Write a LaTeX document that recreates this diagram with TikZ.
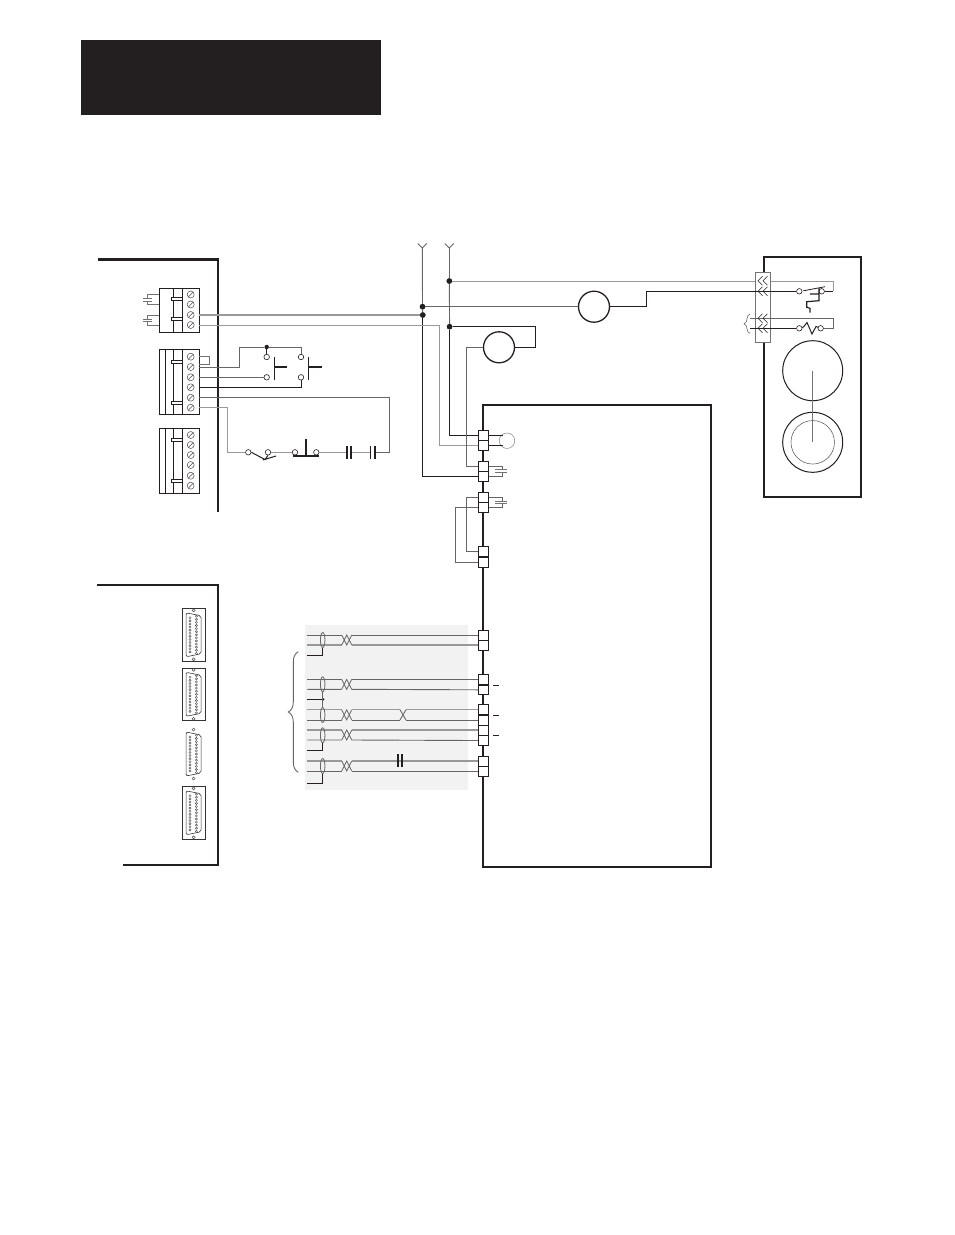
\documentclass[tikz,border=0pt]{standalone}
\usepackage{amsmath}
\usepackage{xcolor}
\usetikzlibrary{decorations.pathreplacing, positioning, shapes.geometric}
\definecolor{inkdark}{HTML}{231F20}
\tikzset{
  heavy/.style={line width=2.2pt,draw=inkdark},
  wire/.style={line width=.8pt,draw=inkdark},
  midwire/.style={line width=.9pt,draw=black!60},
  greywire/.style={line width=1.3pt,draw=black!40},
  hair/.style={line width=.5pt,draw=black!55},
  jdot/.style={circle,fill=inkdark,inner sep=0pt,minimum size=5.5pt},
  term/.style={circle,draw=inkdark,fill=white,line width=.6pt,inner sep=0pt,minimum size=5.5pt},
  motor/.style={circle,draw=inkdark,line width=1.3pt,inner sep=0pt,minimum size=31pt},
  screw/.style={circle,draw=black!70,line width=.5pt,inner sep=0pt,minimum size=7pt,
    path picture={\draw[black!70,line width=.5pt] (path picture bounding box.south west) -- (path picture bounding box.north east);}},
  pinbox/.style={rectangle,draw=inkdark,fill=white,line width=.8pt,inner sep=0pt,minimum width=10.4pt,minimum height=10pt},
  shield/.style={ellipse,draw=black!60,line width=.8pt,inner sep=0pt,minimum width=4.5pt,minimum height=15pt},
  chev/.pic={\draw[wire,line width=.6pt] (3.5,-4.5) -- (-1,0) -- (3.5,4.5) (8.5,-4.5) -- (4,0) -- (8.5,4.5);},
  twist/.pic={\draw[midwire,line width=.8pt] (0,0) -- (5,10) -- (10,0) (0,10) -- (5,0) -- (10,10);},
  platepair/.pic={\draw[hair] (-6,-1.2) -- (6,-1.2) (-6,1.2) -- (6,1.2);},
  dsub/.pic={
    \draw[line width=.6pt,draw=black!80,rounded corners=2pt] (-7.5,-22) -- (7.5,-19) -- (7.5,19) -- (-7.5,22) -- cycle;
    \foreach \k in {-6,...,6} \draw[black!65,line width=.45pt] (2.8,\k*3.1) circle (1.1pt);
    \foreach \k in {-5.5,-4.5,...,5.5} \draw[black!65,line width=.45pt] (-3.6,\k*3.1) circle (1.1pt);
    \draw[black!70,line width=.5pt] (0,-24.5) circle (1.5pt) (0,24.5) circle (1.5pt);
  }
}
\begin{document}
\begin{tikzpicture}[x=1pt,y=-1pt]
  \useasboundingbox (0,0) rectangle (954,1235);

  % header bar
  \fill[inkdark] (81,40) rectangle (381,115);

  % shaded cable area
  \fill[black!5] (305,624.7) rectangle (468.3,790);

  % left panels
  \draw[heavy] (98,259.5) -- (218.3,259.5) -- (218.3,512);
  \draw[heavy] (97,585) -- (218.3,585) -- (218.3,865) -- (123,865);

  % terminal blocks
  \draw[wire] (159,288) rectangle (199,332) (173,288) -- (173,332) (182,288) -- (182,332);
  \draw[wire] (159,349.3) rectangle (199,414.3) (165.3,349.3) -- (165.3,414.3) (173,349.3) -- (173,414.3) (182,349.3) -- (182,414.3);
  \draw[wire] (159,428.3) rectangle (199,493.3) (165.3,428.3) -- (165.3,493.3) (173,428.3) -- (173,493.3) (182,428.3) -- (182,493.3);
  \foreach \y in {299.3,319,361.7,403,439.7,480.7}
    \draw[wire,fill=white] (171,\y-1.5) rectangle (182,\y+1.5);
  \foreach \n/\y in {a1/294.5,a2/304.5,a3/315,a4/325,b1/356.7,b2/367,b3/377.3,b4/387.3,b5/397.7,b6/407.7,c1/435,c2/445,c3/455,c4/465,c5/475.7,c6/485.7} {
    \node[screw] (s\n) at (190.7,\y) {};
    \coordinate (\n) at (199,\y);
  }

  % leads on first block
  \foreach \p/\q in {294.5/304.5,315/325} {
    \draw[hair] (159,\p) -- (147,\p) -- (147,\p+4) (147,\p+6.5) -- (147,\q) -- (159,\q);
    \draw[hair] (142.5,\p+4) -- (152,\p+4) (142.5,\p+6.5) -- (152,\p+6.5);
  }

  % supply lines
  \coordinate (ant1) at (422.3,248);
  \coordinate (ant2) at (449.3,248);
  \foreach \t in {ant1,ant2}
    \draw[midwire] (\t) -- ++(-4.5,-4.5) (\t) -- ++(4.5,-4.5);
  \node[jdot] (j1) at (449.3,281) {};
  \node[jdot] (j2) at (422.5,306.7) {};
  \node[jdot] (j3) at (422.8,315) {};
  \node[jdot] (j4) at (449.6,326.7) {};
  \node[motor] (m1) at (594,306.7) {};
  \node[motor] (m2) at (499,347.3) {};

  % pin boxes on main unit
  \draw[heavy] (482.9,867) -- (482.9,405) -- (710.7,405) -- (710.7,867) -- cycle;
  \foreach \n/\y in {pa/435.5,pb/445.5,pc/466,pd/476,pe/497.3,pf/507.3,pg/551.8,ph/562.3,pi/635,pj/645,pk/679.3,pl/689.8,pm/709.7,pn/720,po/730,pp/740.5,pq/761,pr/771}
    \node[pinbox] (\n) at (483.5,\y) {};
  \draw[heavy] (pk.south west) -- (pk.south east);

  % wiring to supply
  \draw[midwire] (ant1) -- (j2);
  \draw[midwire] (j2) -- (j3);
  \draw[midwire] (ant2) -- (j1);
  \draw[midwire] (j1) -- (j4);
  \draw[wire] (j4) |- (pa.west);
  \draw[wire] (j3) |- (pd.west);
  \draw[greywire] (a3) -- (j3);
  \draw[greywire,line width=.9pt] (a4) -| (439.3,445.5) -- (pb.west);
  \draw[midwire] (j2) -- (m1);
  \draw[greywire,line width=.9pt] (j1) -- (833.3,281) -- (833.3,291.3);
  \draw[wire] (j4) -- (535,326.7) -- (535,347.3) -- (m2);
  \draw[midwire] (m2) -- (466.3,347.3) |- (pc.west);
  \foreach \n in {j1,j2,j3,j4} \node[jdot] at (\n) {};

  % interlock wiring
  \draw[hair] (b1) -- (209.3,356.7) -- (209.3,364.3) -- (199,364.3);
  \node[term] (k1) at (266.7,357) {};
  \node[term] (k2) at (266.7,377.3) {};
  \node[term] (k3) at (301,357) {};
  \node[term] (k4) at (301,377.3) {};
  \node[jdot,minimum size=4.5pt] (j5) at (266.7,347) {};
  \draw[midwire] (b2) -- (239.7,367) -- (239.7,347) -- (j5);
  \draw[midwire] (j5) -- (301,347) -- (k3);
  \draw[wire] (j5) -- (k1);
  \draw[midwire] (b3) -- (k2);
  \draw[wire] (b4) -| (k4);
  \draw[wire,line width=1.2pt] (274.3,357) -- (274.3,380) (274.3,367) -- (286.7,367);
  \draw[wire,line width=1.2pt] (308.3,357) -- (308.3,380) (308.3,367) -- (321.7,367);

  % series string
  \node[term] (k5) at (248.3,452.3) {};
  \node[term] (k6) at (268,452.3) {};
  \node[term] (k7) at (295,452.3) {};
  \node[term] (k8) at (316.3,452.3) {};
  \coordinate (k9) at (347,452.3);
  \coordinate (k10) at (351,452.3);
  \coordinate (k11) at (370.7,452.3);
  \coordinate (k12) at (375,452.3);
  \draw[midwire] (b5) -- (389.3,397.7) -- (389.3,452.3) -- (k12);
  \draw[greywire,line width=1pt] (b6) -- (227.3,407.7) -- (227.3,452.3) -- (k5);
  \draw[greywire,line width=1pt] (k6) -- (k7);
  \draw[greywire,line width=1pt] (k8) -- (k9);
  \draw[greywire,line width=1pt] (k10) -- (k11);
  \draw[wire,line width=1pt] (k5.east) -- (265,459.5) -- (k6.south) (263,460) -- (276,456);
  \draw[wire,line width=1.3pt] (293,456) -- (319,456) (306,439) -- (306,456);
  \foreach \c in {k9,k10,k11,k12}
    \draw[wire,line width=1.3pt] (\c) ++(0,-6) -- ++(0,12.5);

  % motor box
  \draw[heavy,line width=1.8pt] (763.8,257.3) rectangle (861,496.7);
  \draw[hair,fill=white] (755.3,272) rectangle (770.7,342.3);
  \node[term] (t1) at (799.3,291.3) {};
  \node[term] (t2) at (821.7,291.3) {};
  \node[term] (t3) at (799.3,328.3) {};
  \node[term] (t4) at (820.7,328.3) {};
  \draw[wire] (m1) -- (646,306.7) -- (646,291.3) -- (t1);
  \draw[wire] (t2) -- (833.3,291.3);
  \draw[midwire] (750,318.3) -- (833.3,318.3) -- (833.3,328.3) -- (t4);
  \draw[wire] (750,328.3) -- (t3);
  \foreach \y in {280.7,291.3,318.3,328.3}
    \pic at (759,\y) {chev};
  \draw[wire] (t1) ++(4,-.5) -- (825,286.7);
  \draw[wire,line width=1.2pt] (819,288) -- (819,300.7) -- (806.7,301.7) -- (806.7,307.3) -- (810,308.3) -- (810,312.7) (810,294) -- (819,294);
  \draw[wire,line width=1pt] (t3) -- (803.5,327) -- (807,322.5) -- (812,334) -- (816,326.5) -- (t4);
  \draw[midwire,line width=.6pt,decorate,decoration={brace,amplitude=6pt}] (750,333.5) -- (750,314);
  \node[circle,draw=inkdark,line width=1pt,inner sep=0pt,minimum size=60pt] (d1) at (812.7,370.7) {};
  \node[circle,draw=inkdark,line width=1pt,inner sep=0pt,minimum size=60pt] (d2) at (812.7,442.3) {};
  \node[circle,draw=black!70,line width=.5pt,inner sep=0pt,minimum size=43.5pt] (d3) at (d2) {};
  \draw[hair] (d1.center) -- (d2.center);

  % load on first pins
  \node[circle,draw=black!50,line width=.5pt,inner sep=0pt,minimum size=15.5pt] (r1) at (507,440.7) {};
  \draw[wire] (pa.east) -- (503,435.5);
  \draw[wire] (pb.east) -- (503,445.5);
  % capacitors on pins
  \draw[midwire] (pc.east) -- (502.7,466) -- (502.7,469.4);
  \draw[midwire] (pd.east) -- (502.7,476) -- (502.7,471.8);
  \pic at (501,470.6) {platepair};
  \draw[midwire] (pe.east) -- (502.7,497.3) -- (502.7,500.8);
  \draw[midwire] (pf.east) -- (502.7,507.3) -- (502.7,503.2);
  \pic at (501,502) {platepair};
  % links between pins
  \draw[midwire] (pe.west) -- (466.3,497.3) -- (466.3,551.8) -- (pg.west);
  \draw[midwire] (pf.west) -- (455.7,507.3) -- (455.7,562.3) -- (ph.west);

  % cable bundles
  \foreach \u/\v/\y/\su/\sv in {pi/pj/635/midwire/greywire,pk/pl/679.3/midwire/midwire,po/pp/730/greywire/midwire,pq/pr/761/greywire/midwire} {
    \draw[\su] (307.3,\y) -- (341.7,\y) (351.7,\y) -- (\u.west);
    \draw[\sv] (307.3,\y+10) -- (341.7,\y+10) (351.7,\y+10) -- (\v.west);
    \pic at (341.7,\y) {twist};
  }
  % bundle with extra crossing
  \draw[greywire] (307.3,709.7) -- (341.7,709.7) (351.7,709.7) -- (400,709.7) (406,709.7) -- (pm.west);
  \draw[midwire] (307.3,720) -- (341.7,720) (351.7,720) -- (400,720) (406,720) -- (pn.west);
  \pic at (341.7,709.9) {twist};
  \draw[midwire] (400,709.7) -- (406,720) (400,720) -- (406,709.7);

  % cable shields
  \foreach \n/\y in {o1/640,o2/684.3,o3/715,o4/735.3,o5/766}
    \node[shield] (\n) at (322.7,\y) {};
  \coordinate (g1) at (307.3,655);
  \coordinate (g2) at (307.3,699.3);
  \coordinate (g3) at (307.3,750.3);
  \coordinate (g4) at (307.3,783);
  \node[jdot,minimum size=2.5pt] (j6) at (323.3,699.3) {};
  \draw[wire] (g1) -| (o1.south);
  \draw[wire] (g2) -- (j6);
  \draw[midwire] (o2.south) -- (o3.north);
  \draw[wire] (g3) -| (o4.south);
  \draw[wire] (g4) -| (o5.south);

  % capacitor in last bundle
  \draw[wire,line width=1.6pt] (398,754.3) -- (398,767) (402,754.3) -- (402,767);

  % ticks beside pins
  \foreach \y in {685.3,715.3,735.3}
    \draw[wire,line width=.6pt] (493.3,\y) -- (499.3,\y);

  % brace
  \draw[midwire,decorate,decoration={brace,amplitude=10pt}] (298.3,772.3) -- (298.3,651.7);

  % sub-D connectors
  \draw[hair,draw=black!80] (182.3,608.3) rectangle (205,661.3);
  \draw[hair,draw=black!80] (182.3,668) rectangle (205,720.7);
  \draw[hair,draw=black!80] (182.3,786.3) rectangle (205,839.3);
  \foreach \y in {634.8,694.3,754,812.8}
    \pic at (193.6,\y) {dsub};
\end{tikzpicture}
\end{document}
